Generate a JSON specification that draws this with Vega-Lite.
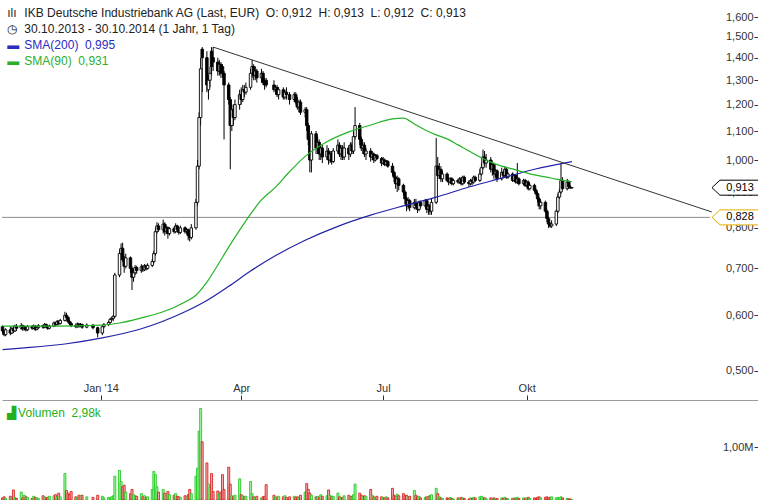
{
"$schema":"https://vega.github.io/schema/vega-lite/v6.json",
"padding":0,
"background":"white",
"spacing":0,
"bounds":"flush",
"config":{"view":{"stroke":null},"font":"Liberation Sans","axis":{"grid":false,"title":null,"labelFont":"Liberation Sans","labelFontSize":11,"labelColor":"#333333","tickColor":"#333333","tickWidth":1,"labelOverlap":false,"labelFlush":false},"text":{"font":"Liberation Sans"}},
"datasets":{
"px":[
{"d":"2013-10-30","o":0.578,"h":0.580,"l":0.565,"c":0.570,"v":40000},
{"d":"2013-10-31","o":0.570,"h":0.572,"l":0.560,"c":0.563,"v":60000},
{"d":"2013-11-01","o":0.563,"h":0.575,"l":0.560,"c":0.572,"v":30000},
{"d":"2013-11-04","o":0.572,"h":0.578,"l":0.562,"c":0.566,"v":70000},
{"d":"2013-11-05","o":0.566,"h":0.578,"l":0.564,"c":0.574,"v":40000},
{"d":"2013-11-06","o":0.574,"h":0.580,"l":0.566,"c":0.570,"v":190000},
{"d":"2013-11-07","o":0.570,"h":0.582,"l":0.568,"c":0.578,"v":50000},
{"d":"2013-11-08","o":0.578,"h":0.583,"l":0.570,"c":0.575,"v":30000},
{"d":"2013-11-11","o":0.575,"h":0.585,"l":0.572,"c":0.580,"v":150000},
{"d":"2013-11-12","o":0.580,"h":0.582,"l":0.570,"c":0.574,"v":40000},
{"d":"2013-11-13","o":0.574,"h":0.580,"l":0.571,"c":0.577,"v":90000},
{"d":"2013-11-14","o":0.577,"h":0.579,"l":0.569,"c":0.572,"v":60000},
{"d":"2013-11-15","o":0.572,"h":0.581,"l":0.570,"c":0.578,"v":50000},
{"d":"2013-11-18","o":0.578,"h":0.581,"l":0.572,"c":0.575,"v":30000},
{"d":"2013-11-19","o":0.575,"h":0.582,"l":0.573,"c":0.579,"v":70000},
{"d":"2013-11-20","o":0.579,"h":0.581,"l":0.570,"c":0.573,"v":50000},
{"d":"2013-11-21","o":0.573,"h":0.579,"l":0.571,"c":0.576,"v":40000},
{"d":"2013-11-22","o":0.576,"h":0.583,"l":0.574,"c":0.580,"v":30000},
{"d":"2013-11-25","o":0.580,"h":0.582,"l":0.574,"c":0.577,"v":80000},
{"d":"2013-11-26","o":0.577,"h":0.585,"l":0.575,"c":0.582,"v":60000},
{"d":"2013-11-27","o":0.582,"h":0.584,"l":0.575,"c":0.578,"v":40000},
{"d":"2013-11-28","o":0.578,"h":0.580,"l":0.572,"c":0.575,"v":50000},
{"d":"2013-11-29","o":0.575,"h":0.582,"l":0.573,"c":0.579,"v":70000},
{"d":"2013-12-02","o":0.579,"h":0.588,"l":0.577,"c":0.585,"v":80000},
{"d":"2013-12-03","o":0.585,"h":0.587,"l":0.579,"c":0.582,"v":100000},
{"d":"2013-12-04","o":0.582,"h":0.591,"l":0.580,"c":0.588,"v":60000},
{"d":"2013-12-05","o":0.588,"h":0.590,"l":0.581,"c":0.584,"v":130000},
{"d":"2013-12-06","o":0.584,"h":0.593,"l":0.582,"c":0.590,"v":60000},
{"d":"2013-12-09","o":0.590,"h":0.607,"l":0.588,"c":0.600,"v":500000},
{"d":"2013-12-10","o":0.600,"h":0.605,"l":0.593,"c":0.596,"v":180000},
{"d":"2013-12-11","o":0.596,"h":0.598,"l":0.585,"c":0.588,"v":130000},
{"d":"2013-12-12","o":0.588,"h":0.591,"l":0.581,"c":0.584,"v":100000},
{"d":"2013-12-13","o":0.584,"h":0.587,"l":0.577,"c":0.580,"v":160000},
{"d":"2013-12-16","o":0.580,"h":0.584,"l":0.575,"c":0.578,"v":60000},
{"d":"2013-12-17","o":0.578,"h":0.586,"l":0.576,"c":0.583,"v":50000},
{"d":"2013-12-18","o":0.583,"h":0.585,"l":0.576,"c":0.579,"v":90000},
{"d":"2013-12-19","o":0.579,"h":0.585,"l":0.577,"c":0.582,"v":80000},
{"d":"2013-12-20","o":0.582,"h":0.584,"l":0.574,"c":0.577,"v":90000},
{"d":"2013-12-23","o":0.577,"h":0.584,"l":0.575,"c":0.581,"v":60000},
{"d":"2013-12-27","o":0.581,"h":0.583,"l":0.573,"c":0.576,"v":50000},
{"d":"2013-12-30","o":0.576,"h":0.578,"l":0.558,"c":0.566,"v":90000},
{"d":"2014-01-02","o":0.566,"h":0.580,"l":0.562,"c":0.578,"v":70000},
{"d":"2014-01-03","o":0.578,"h":0.585,"l":0.575,"c":0.582,"v":40000},
{"d":"2014-01-06","o":0.582,"h":0.589,"l":0.579,"c":0.586,"v":50000},
{"d":"2014-01-07","o":0.586,"h":0.595,"l":0.584,"c":0.592,"v":40000},
{"d":"2014-01-08","o":0.592,"h":0.597,"l":0.588,"c":0.594,"v":60000},
{"d":"2014-01-09","o":0.594,"h":0.600,"l":0.589,"c":0.598,"v":80000},
{"d":"2014-01-10","o":0.598,"h":0.690,"l":0.595,"c":0.685,"v":450000},
{"d":"2014-01-13","o":0.685,"h":0.745,"l":0.680,"c":0.735,"v":560000},
{"d":"2014-01-14","o":0.735,"h":0.760,"l":0.720,"c":0.748,"v":350000},
{"d":"2014-01-15","o":0.748,"h":0.762,"l":0.715,"c":0.720,"v":250000},
{"d":"2014-01-16","o":0.720,"h":0.730,"l":0.690,"c":0.705,"v":280000},
{"d":"2014-01-17","o":0.705,"h":0.735,"l":0.700,"c":0.725,"v":150000},
{"d":"2014-01-20","o":0.725,"h":0.728,"l":0.690,"c":0.700,"v":120000},
{"d":"2014-01-21","o":0.700,"h":0.705,"l":0.652,"c":0.680,"v":200000},
{"d":"2014-01-22","o":0.680,"h":0.700,"l":0.670,"c":0.690,"v":100000},
{"d":"2014-01-23","o":0.690,"h":0.708,"l":0.685,"c":0.702,"v":80000},
{"d":"2014-01-24","o":0.702,"h":0.706,"l":0.688,"c":0.695,"v":70000},
{"d":"2014-01-27","o":0.695,"h":0.710,"l":0.690,"c":0.704,"v":120000},
{"d":"2014-01-28","o":0.704,"h":0.708,"l":0.692,"c":0.697,"v":60000},
{"d":"2014-01-29","o":0.697,"h":0.710,"l":0.694,"c":0.706,"v":80000},
{"d":"2014-01-30","o":0.706,"h":0.709,"l":0.695,"c":0.700,"v":50000},
{"d":"2014-01-31","o":0.700,"h":0.712,"l":0.697,"c":0.707,"v":60000},
{"d":"2014-02-03","o":0.707,"h":0.722,"l":0.703,"c":0.716,"v":200000},
{"d":"2014-02-04","o":0.716,"h":0.742,"l":0.712,"c":0.735,"v":540000},
{"d":"2014-02-05","o":0.735,"h":0.800,"l":0.730,"c":0.790,"v":480000},
{"d":"2014-02-06","o":0.790,"h":0.815,"l":0.785,"c":0.805,"v":250000},
{"d":"2014-02-07","o":0.805,"h":0.812,"l":0.790,"c":0.795,"v":150000},
{"d":"2014-02-10","o":0.795,"h":0.822,"l":0.785,"c":0.810,"v":200000},
{"d":"2014-02-11","o":0.810,"h":0.815,"l":0.780,"c":0.790,"v":130000},
{"d":"2014-02-12","o":0.790,"h":0.806,"l":0.784,"c":0.800,"v":120000},
{"d":"2014-02-13","o":0.800,"h":0.804,"l":0.772,"c":0.785,"v":160000},
{"d":"2014-02-14","o":0.785,"h":0.802,"l":0.780,"c":0.798,"v":100000},
{"d":"2014-02-17","o":0.798,"h":0.803,"l":0.785,"c":0.790,"v":90000},
{"d":"2014-02-18","o":0.790,"h":0.812,"l":0.786,"c":0.805,"v":120000},
{"d":"2014-02-19","o":0.805,"h":0.808,"l":0.790,"c":0.795,"v":70000},
{"d":"2014-02-20","o":0.795,"h":0.800,"l":0.782,"c":0.788,"v":60000},
{"d":"2014-02-21","o":0.788,"h":0.806,"l":0.784,"c":0.800,"v":50000},
{"d":"2014-02-24","o":0.800,"h":0.804,"l":0.785,"c":0.790,"v":80000},
{"d":"2014-02-25","o":0.790,"h":0.800,"l":0.785,"c":0.795,"v":60000},
{"d":"2014-02-26","o":0.795,"h":0.798,"l":0.768,"c":0.780,"v":100000},
{"d":"2014-02-27","o":0.780,"h":0.785,"l":0.765,"c":0.775,"v":200000},
{"d":"2014-02-28","o":0.775,"h":0.810,"l":0.770,"c":0.800,"v":120000},
{"d":"2014-03-03","o":0.800,"h":0.880,"l":0.795,"c":0.870,"v":450000},
{"d":"2014-03-04","o":0.870,"h":1.000,"l":0.860,"c":0.980,"v":600000},
{"d":"2014-03-05","o":0.980,"h":1.170,"l":0.970,"c":1.150,"v":1300000},
{"d":"2014-03-06","o":1.150,"h":1.400,"l":1.120,"c":1.350,"v":1730000},
{"d":"2014-03-07","o":1.440,"h":1.450,"l":1.250,"c":1.400,"v":1100000},
{"d":"2014-03-10","o":1.400,"h":1.430,"l":1.250,"c":1.280,"v":700000},
{"d":"2014-03-11","o":1.260,"h":1.320,"l":1.220,"c":1.300,"v":300000},
{"d":"2014-03-12","o":1.300,"h":1.360,"l":1.270,"c":1.330,"v":250000},
{"d":"2014-03-13","o":1.430,"h":1.450,"l":1.320,"c":1.360,"v":500000},
{"d":"2014-03-14","o":1.400,"h":1.450,"l":1.340,"c":1.380,"v":160000},
{"d":"2014-03-17","o":1.380,"h":1.400,"l":1.320,"c":1.340,"v":170000},
{"d":"2014-03-18","o":1.340,"h":1.390,"l":1.320,"c":1.370,"v":120000},
{"d":"2014-03-19","o":1.370,"h":1.380,"l":1.310,"c":1.330,"v":150000},
{"d":"2014-03-20","o":1.360,"h":1.370,"l":1.310,"c":1.330,"v":480000},
{"d":"2014-03-21","o":1.330,"h":1.340,"l":1.070,"c":1.280,"v":200000},
{"d":"2014-03-24","o":1.280,"h":1.290,"l":1.200,"c":1.220,"v":620000},
{"d":"2014-03-25","o":1.220,"h":1.230,"l":0.970,"c":1.120,"v":300000},
{"d":"2014-03-26","o":1.120,"h":1.200,"l":1.100,"c":1.180,"v":80000},
{"d":"2014-03-27","o":1.180,"h":1.200,"l":1.120,"c":1.150,"v":60000},
{"d":"2014-03-28","o":1.150,"h":1.220,"l":1.140,"c":1.200,"v":90000},
{"d":"2014-03-31","o":1.200,"h":1.260,"l":1.180,"c":1.240,"v":400000},
{"d":"2014-04-01","o":1.240,"h":1.270,"l":1.200,"c":1.220,"v":100000},
{"d":"2014-04-02","o":1.220,"h":1.280,"l":1.210,"c":1.260,"v":80000},
{"d":"2014-04-03","o":1.260,"h":1.280,"l":1.230,"c":1.250,"v":60000},
{"d":"2014-04-04","o":1.250,"h":1.290,"l":1.240,"c":1.270,"v":70000},
{"d":"2014-04-07","o":1.270,"h":1.350,"l":1.260,"c":1.330,"v":350000},
{"d":"2014-04-08","o":1.330,"h":1.390,"l":1.310,"c":1.360,"v":120000},
{"d":"2014-04-09","o":1.360,"h":1.370,"l":1.300,"c":1.320,"v":60000},
{"d":"2014-04-10","o":1.320,"h":1.360,"l":1.300,"c":1.340,"v":50000},
{"d":"2014-04-11","o":1.340,"h":1.350,"l":1.290,"c":1.310,"v":70000},
{"d":"2014-04-14","o":1.310,"h":1.350,"l":1.290,"c":1.330,"v":40000},
{"d":"2014-04-15","o":1.330,"h":1.340,"l":1.280,"c":1.290,"v":60000},
{"d":"2014-04-16","o":1.290,"h":1.310,"l":1.260,"c":1.280,"v":70000},
{"d":"2014-04-17","o":1.300,"h":1.310,"l":1.270,"c":1.280,"v":290000},
{"d":"2014-04-22","o":1.280,"h":1.300,"l":1.250,"c":1.260,"v":90000},
{"d":"2014-04-23","o":1.260,"h":1.280,"l":1.240,"c":1.270,"v":60000},
{"d":"2014-04-24","o":1.270,"h":1.280,"l":1.230,"c":1.240,"v":50000},
{"d":"2014-04-25","o":1.240,"h":1.270,"l":1.220,"c":1.260,"v":70000},
{"d":"2014-04-28","o":1.260,"h":1.270,"l":1.220,"c":1.230,"v":60000},
{"d":"2014-04-29","o":1.230,"h":1.260,"l":1.220,"c":1.250,"v":80000},
{"d":"2014-04-30","o":1.250,"h":1.270,"l":1.220,"c":1.240,"v":50000},
{"d":"2014-05-02","o":1.240,"h":1.250,"l":1.200,"c":1.220,"v":60000},
{"d":"2014-05-05","o":1.220,"h":1.250,"l":1.210,"c":1.240,"v":70000},
{"d":"2014-05-06","o":1.240,"h":1.250,"l":1.200,"c":1.210,"v":50000},
{"d":"2014-05-07","o":1.210,"h":1.230,"l":1.180,"c":1.190,"v":60000},
{"d":"2014-05-08","o":1.190,"h":1.220,"l":1.170,"c":1.210,"v":40000},
{"d":"2014-05-09","o":1.210,"h":1.220,"l":1.160,"c":1.170,"v":90000},
{"d":"2014-05-12","o":1.170,"h":1.190,"l":1.150,"c":1.180,"v":150000},
{"d":"2014-05-13","o":1.180,"h":1.190,"l":1.100,"c":1.120,"v":310000},
{"d":"2014-05-14","o":1.120,"h":1.130,"l":1.050,"c":1.070,"v":200000},
{"d":"2014-05-15","o":1.070,"h":1.080,"l":0.960,"c":1.000,"v":130000},
{"d":"2014-05-16","o":1.000,"h":1.100,"l":0.960,"c":1.090,"v":90000},
{"d":"2014-05-19","o":1.090,"h":1.100,"l":1.020,"c":1.040,"v":60000},
{"d":"2014-05-20","o":1.040,"h":1.080,"l":1.020,"c":1.060,"v":70000},
{"d":"2014-05-21","o":1.060,"h":1.070,"l":1.000,"c":1.020,"v":50000},
{"d":"2014-05-22","o":1.020,"h":1.050,"l":1.000,"c":1.040,"v":100000},
{"d":"2014-05-23","o":1.040,"h":1.050,"l":0.990,"c":1.010,"v":70000},
{"d":"2014-05-26","o":1.010,"h":1.050,"l":1.000,"c":1.030,"v":80000},
{"d":"2014-05-27","o":1.030,"h":1.040,"l":0.985,"c":1.000,"v":190000},
{"d":"2014-05-28","o":1.000,"h":1.030,"l":0.990,"c":1.020,"v":90000},
{"d":"2014-05-29","o":1.020,"h":1.030,"l":0.985,"c":0.995,"v":60000},
{"d":"2014-05-30","o":0.995,"h":1.040,"l":0.990,"c":1.030,"v":70000},
{"d":"2014-06-02","o":1.030,"h":1.070,"l":1.020,"c":1.050,"v":130000},
{"d":"2014-06-03","o":1.050,"h":1.060,"l":1.010,"c":1.020,"v":60000},
{"d":"2014-06-04","o":1.020,"h":1.050,"l":1.000,"c":1.040,"v":40000},
{"d":"2014-06-05","o":1.040,"h":1.050,"l":1.000,"c":1.010,"v":50000},
{"d":"2014-06-06","o":1.010,"h":1.060,"l":1.000,"c":1.040,"v":80000},
{"d":"2014-06-09","o":1.040,"h":1.050,"l":1.000,"c":1.020,"v":90000},
{"d":"2014-06-10","o":1.020,"h":1.060,"l":1.010,"c":1.050,"v":60000},
{"d":"2014-06-11","o":1.050,"h":1.060,"l":1.020,"c":1.030,"v":70000},
{"d":"2014-06-12","o":1.030,"h":1.100,"l":1.020,"c":1.080,"v":100000},
{"d":"2014-06-13","o":1.080,"h":1.190,"l":1.070,"c":1.120,"v":300000},
{"d":"2014-06-16","o":1.120,"h":1.130,"l":1.050,"c":1.070,"v":130000},
{"d":"2014-06-17","o":1.070,"h":1.080,"l":1.030,"c":1.040,"v":90000},
{"d":"2014-06-18","o":1.040,"h":1.060,"l":1.020,"c":1.050,"v":60000},
{"d":"2014-06-19","o":1.050,"h":1.060,"l":1.010,"c":1.020,"v":80000},
{"d":"2014-06-20","o":1.020,"h":1.040,"l":1.000,"c":1.030,"v":70000},
{"d":"2014-06-23","o":1.030,"h":1.040,"l":0.995,"c":1.010,"v":200000},
{"d":"2014-06-24","o":1.010,"h":1.030,"l":1.000,"c":1.020,"v":90000},
{"d":"2014-06-25","o":1.020,"h":1.025,"l":0.990,"c":1.000,"v":60000},
{"d":"2014-06-26","o":1.000,"h":1.020,"l":0.995,"c":1.015,"v":50000},
{"d":"2014-06-27","o":1.015,"h":1.020,"l":1.000,"c":1.005,"v":70000},
{"d":"2014-06-30","o":1.005,"h":1.010,"l":0.980,"c":0.990,"v":60000},
{"d":"2014-07-01","o":0.990,"h":1.010,"l":0.985,"c":1.000,"v":50000},
{"d":"2014-07-02","o":1.000,"h":1.005,"l":0.980,"c":0.985,"v":40000},
{"d":"2014-07-03","o":0.985,"h":1.000,"l":0.980,"c":0.995,"v":60000},
{"d":"2014-07-04","o":0.995,"h":1.000,"l":0.975,"c":0.980,"v":40000},
{"d":"2014-07-07","o":0.980,"h":0.990,"l":0.950,"c":0.960,"v":220000},
{"d":"2014-07-08","o":0.960,"h":0.965,"l":0.930,"c":0.945,"v":90000},
{"d":"2014-07-09","o":0.945,"h":0.950,"l":0.910,"c":0.925,"v":70000},
{"d":"2014-07-10","o":0.925,"h":0.950,"l":0.900,"c":0.940,"v":110000},
{"d":"2014-07-11","o":0.940,"h":0.945,"l":0.905,"c":0.920,"v":80000},
{"d":"2014-07-14","o":0.920,"h":0.925,"l":0.890,"c":0.900,"v":120000},
{"d":"2014-07-15","o":0.900,"h":0.905,"l":0.865,"c":0.880,"v":80000},
{"d":"2014-07-16","o":0.880,"h":0.885,"l":0.845,"c":0.860,"v":90000},
{"d":"2014-07-17","o":0.860,"h":0.885,"l":0.850,"c":0.875,"v":60000},
{"d":"2014-07-18","o":0.875,"h":0.880,"l":0.845,"c":0.855,"v":70000},
{"d":"2014-07-21","o":0.855,"h":0.880,"l":0.850,"c":0.870,"v":180000},
{"d":"2014-07-22","o":0.870,"h":0.880,"l":0.850,"c":0.860,"v":90000},
{"d":"2014-07-23","o":0.860,"h":0.870,"l":0.840,"c":0.850,"v":60000},
{"d":"2014-07-24","o":0.850,"h":0.875,"l":0.845,"c":0.870,"v":70000},
{"d":"2014-07-25","o":0.870,"h":0.875,"l":0.855,"c":0.860,"v":40000},
{"d":"2014-07-28","o":0.860,"h":0.880,"l":0.855,"c":0.875,"v":50000},
{"d":"2014-07-29","o":0.875,"h":0.880,"l":0.840,"c":0.850,"v":60000},
{"d":"2014-07-30","o":0.850,"h":0.865,"l":0.835,"c":0.860,"v":70000},
{"d":"2014-07-31","o":0.860,"h":0.865,"l":0.835,"c":0.845,"v":80000},
{"d":"2014-08-01","o":0.845,"h":0.880,"l":0.835,"c":0.870,"v":100000},
{"d":"2014-08-04","o":0.870,"h":1.075,"l":0.865,"c":0.980,"v":220000},
{"d":"2014-08-05","o":0.980,"h":1.010,"l":0.940,"c":0.950,"v":120000},
{"d":"2014-08-06","o":0.950,"h":0.990,"l":0.940,"c":0.970,"v":60000},
{"d":"2014-08-07","o":0.970,"h":0.980,"l":0.930,"c":0.940,"v":40000},
{"d":"2014-08-08","o":0.940,"h":0.965,"l":0.930,"c":0.955,"v":30000},
{"d":"2014-08-11","o":0.955,"h":0.960,"l":0.930,"c":0.935,"v":40000},
{"d":"2014-08-12","o":0.935,"h":0.945,"l":0.920,"c":0.930,"v":30000},
{"d":"2014-08-13","o":0.930,"h":0.945,"l":0.925,"c":0.940,"v":50000},
{"d":"2014-08-14","o":0.940,"h":0.945,"l":0.920,"c":0.925,"v":30000},
{"d":"2014-08-15","o":0.925,"h":0.940,"l":0.920,"c":0.935,"v":20000},
{"d":"2014-08-18","o":0.935,"h":0.940,"l":0.925,"c":0.930,"v":40000},
{"d":"2014-08-19","o":0.930,"h":0.945,"l":0.925,"c":0.940,"v":30000},
{"d":"2014-08-20","o":0.940,"h":0.945,"l":0.920,"c":0.925,"v":50000},
{"d":"2014-08-21","o":0.925,"h":0.950,"l":0.920,"c":0.945,"v":40000},
{"d":"2014-08-22","o":0.945,"h":0.950,"l":0.925,"c":0.930,"v":30000},
{"d":"2014-08-25","o":0.930,"h":0.935,"l":0.915,"c":0.925,"v":20000},
{"d":"2014-08-26","o":0.925,"h":0.940,"l":0.920,"c":0.935,"v":40000},
{"d":"2014-08-27","o":0.935,"h":0.940,"l":0.920,"c":0.930,"v":30000},
{"d":"2014-08-28","o":0.930,"h":0.950,"l":0.925,"c":0.945,"v":50000},
{"d":"2014-08-29","o":0.945,"h":0.950,"l":0.930,"c":0.935,"v":40000},
{"d":"2014-09-01","o":0.935,"h":0.970,"l":0.930,"c":0.955,"v":60000},
{"d":"2014-09-02","o":0.955,"h":0.990,"l":0.950,"c":0.975,"v":70000},
{"d":"2014-09-03","o":0.975,"h":1.035,"l":0.970,"c":1.010,"v":50000},
{"d":"2014-09-04","o":1.010,"h":1.030,"l":0.980,"c":0.990,"v":40000},
{"d":"2014-09-05","o":0.990,"h":1.020,"l":0.975,"c":1.000,"v":30000},
{"d":"2014-09-08","o":1.000,"h":1.010,"l":0.960,"c":0.970,"v":40000},
{"d":"2014-09-09","o":0.970,"h":0.995,"l":0.950,"c":0.985,"v":30000},
{"d":"2014-09-10","o":0.985,"h":0.990,"l":0.940,"c":0.955,"v":40000},
{"d":"2014-09-11","o":0.955,"h":0.970,"l":0.945,"c":0.965,"v":20000},
{"d":"2014-09-12","o":0.965,"h":0.970,"l":0.930,"c":0.940,"v":30000},
{"d":"2014-09-15","o":0.940,"h":0.975,"l":0.935,"c":0.960,"v":40000},
{"d":"2014-09-16","o":0.960,"h":0.965,"l":0.945,"c":0.950,"v":30000},
{"d":"2014-09-17","o":0.950,"h":0.980,"l":0.945,"c":0.970,"v":50000},
{"d":"2014-09-18","o":0.970,"h":0.975,"l":0.940,"c":0.945,"v":30000},
{"d":"2014-09-19","o":0.945,"h":0.960,"l":0.940,"c":0.955,"v":20000},
{"d":"2014-09-22","o":0.955,"h":0.960,"l":0.930,"c":0.935,"v":30000},
{"d":"2014-09-23","o":0.935,"h":0.955,"l":0.930,"c":0.950,"v":40000},
{"d":"2014-09-24","o":0.950,"h":0.955,"l":0.925,"c":0.930,"v":30000},
{"d":"2014-09-25","o":0.930,"h":0.990,"l":0.925,"c":0.940,"v":50000},
{"d":"2014-09-26","o":0.940,"h":0.945,"l":0.920,"c":0.925,"v":30000},
{"d":"2014-09-29","o":0.925,"h":0.940,"l":0.920,"c":0.935,"v":40000},
{"d":"2014-09-30","o":0.935,"h":0.940,"l":0.915,"c":0.920,"v":30000},
{"d":"2014-10-01","o":0.920,"h":0.935,"l":0.915,"c":0.930,"v":40000},
{"d":"2014-10-02","o":0.930,"h":0.935,"l":0.905,"c":0.910,"v":50000},
{"d":"2014-10-03","o":0.910,"h":0.925,"l":0.905,"c":0.920,"v":30000},
{"d":"2014-10-06","o":0.920,"h":0.925,"l":0.900,"c":0.905,"v":40000},
{"d":"2014-10-07","o":0.905,"h":0.910,"l":0.890,"c":0.895,"v":30000},
{"d":"2014-10-08","o":0.895,"h":0.900,"l":0.870,"c":0.880,"v":50000},
{"d":"2014-10-09","o":0.880,"h":0.885,"l":0.850,"c":0.860,"v":60000},
{"d":"2014-10-10","o":0.860,"h":0.875,"l":0.850,"c":0.870,"v":40000},
{"d":"2014-10-13","o":0.870,"h":0.875,"l":0.840,"c":0.845,"v":50000},
{"d":"2014-10-14","o":0.845,"h":0.850,"l":0.815,"c":0.825,"v":60000},
{"d":"2014-10-15","o":0.825,"h":0.830,"l":0.800,"c":0.810,"v":40000},
{"d":"2014-10-16","o":0.810,"h":0.815,"l":0.800,"c":0.805,"v":50000},
{"d":"2014-10-17","o":0.805,"h":0.820,"l":0.800,"c":0.810,"v":60000},
{"d":"2014-10-20","o":0.810,"h":0.850,"l":0.805,"c":0.845,"v":40000},
{"d":"2014-10-21","o":0.845,"h":0.895,"l":0.840,"c":0.885,"v":50000},
{"d":"2014-10-22","o":0.885,"h":0.910,"l":0.880,"c":0.900,"v":40000},
{"d":"2014-10-23","o":0.900,"h":0.990,"l":0.895,"c":0.935,"v":60000},
{"d":"2014-10-24","o":0.935,"h":0.945,"l":0.905,"c":0.910,"v":40000},
{"d":"2014-10-27","o":0.910,"h":0.940,"l":0.905,"c":0.930,"v":30000},
{"d":"2014-10-28","o":0.930,"h":0.935,"l":0.910,"c":0.915,"v":20000},
{"d":"2014-10-29","o":0.915,"h":0.920,"l":0.910,"c":0.912,"v":20000},
{"d":"2014-10-30","o":0.912,"h":0.913,"l":0.912,"c":0.913,"v":2980}
],
"sma90":[
{"d":"2013-10-30","p":0.579},{"d":"2013-12-02","p":0.579},{"d":"2014-01-02","p":0.581},{"d":"2014-01-13","p":0.585},{"d":"2014-01-27","p":0.595},{"d":"2014-02-10","p":0.607},{"d":"2014-02-24","p":0.627},{"d":"2014-03-03","p":0.641},{"d":"2014-03-10","p":0.669},{"d":"2014-03-17","p":0.708},{"d":"2014-03-24","p":0.751},{"d":"2014-03-31","p":0.794},{"d":"2014-04-07","p":0.837},{"d":"2014-04-14","p":0.877},{"d":"2014-04-22","p":0.910},{"d":"2014-05-02","p":0.962},{"d":"2014-05-12","p":1.012},{"d":"2014-05-26","p":1.062},{"d":"2014-06-09","p":1.097},{"d":"2014-06-23","p":1.122},{"d":"2014-07-07","p":1.145},{"d":"2014-07-14","p":1.148},{"d":"2014-07-21","p":1.126},{"d":"2014-07-28","p":1.104},{"d":"2014-08-04","p":1.086},{"d":"2014-08-11","p":1.072},{"d":"2014-08-18","p":1.051},{"d":"2014-08-25","p":1.030},{"d":"2014-09-01","p":1.010},{"d":"2014-09-08","p":0.993},{"d":"2014-09-15","p":0.980},{"d":"2014-09-22","p":0.971},{"d":"2014-09-29","p":0.961},{"d":"2014-10-06","p":0.952},{"d":"2014-10-13","p":0.946},{"d":"2014-10-20","p":0.939},{"d":"2014-10-30","p":0.931}
],
"sma200":[
{"d":"2013-10-30","p":0.536},{"d":"2013-11-13","p":0.539},{"d":"2013-12-09","p":0.546},{"d":"2014-01-02","p":0.557},{"d":"2014-01-27","p":0.574},{"d":"2014-02-24","p":0.607},{"d":"2014-03-10","p":0.630},{"d":"2014-03-24","p":0.660},{"d":"2014-04-07","p":0.694},{"d":"2014-04-22","p":0.728},{"d":"2014-05-12","p":0.768},{"d":"2014-06-02","p":0.804},{"d":"2014-06-23","p":0.834},{"d":"2014-07-14","p":0.860},{"d":"2014-08-04","p":0.885},{"d":"2014-08-25","p":0.915},{"d":"2014-09-15","p":0.942},{"d":"2014-10-06","p":0.970},{"d":"2014-10-30","p":0.995}
],
"ann":[
{"d":"2013-11-02","p":1.622,"t":"ılı","k":"t"},
{"d":"2013-11-13","p":1.622,"t":"IKB Deutsche Industriebank AG (Last, EUR)\u00a0\u00a0O: 0,912\u00a0\u00a0H: 0,913\u00a0\u00a0L: 0,912\u00a0\u00a0C: 0,913","k":"t"},
{"d":"2013-11-02","p":1.5386,"t":"◷","k":"t"},
{"d":"2013-11-13","p":1.5386,"t":"30.10.2013 - 30.10.2014 (1 Jahr, 1 Tag)","k":"t"},
{"d":"2013-11-02","p":1.46,"t":"▬","k":"b"},
{"d":"2013-11-13","p":1.46,"t":"SMA(200)\u00a0\u00a00,995","k":"b"},
{"d":"2013-11-02","p":1.385,"t":"▬","k":"g"},
{"d":"2013-11-13","p":1.385,"t":"SMA(90)\u00a0\u00a00,931","k":"g"}
]
},
"vconcat":[
{
"width":758,"height":400,
"encoding":{"x":{"field":"d","type":"temporal","scale":{"type":"utc","padding":0,"domain":[{"year":2013,"month":10,"date":29,"hours":16,"utc":true},{"year":2015,"month":2,"date":27,"hours":13,"minutes":40,"utc":true}]},"axis":{"values":[{"year":2014,"month":1,"date":1,"utc":true},{"year":2014,"month":4,"date":1,"utc":true},{"year":2014,"month":7,"date":1,"utc":true},{"year":2014,"month":10,"date":1,"utc":true}],"labelExpr":"utcmonth(datum.value)==0 ? \"Jan '14\" : (utcmonth(datum.value)==3 ? 'Apr' : (utcmonth(datum.value)==6 ? 'Jul' : 'Okt'))","tickSize":-5,"labelPadding":-7,"labelBaseline":"middle","domain":true,"domainColor":"#999999","domainWidth":1}}},
"layer":[
{"data":{"values":[{"d":"2013-10-29T16:00:00Z","d2":"2015-01-26T12:00:00Z","p":0.828}]},"mark":{"type":"rule","color":"#8c8c8c","strokeWidth":1},"encoding":{"x2":{"field":"d2"},"y":{"field":"p","type":"quantitative","scale":{"type":"log","domain":[0.4541,1.6927],"nice":false},"axis":{"orient":"right","values":[0.5,0.6,0.7,0.8,0.9,1.0,1.1,1.2,1.3,1.4,1.5,1.6],"labelExpr":"replace(format(datum.value,'.3f'),'.',',')","tickSize":-6,"labelPadding":-1,"labelAlign":"right","labelBaseline":"middle","domain":false}}}},
{"data":{"name":"px"},"mark":{"type":"rule","color":"#000000","strokeWidth":1},"encoding":{"y":{"field":"l","type":"quantitative","scale":{"type":"log","domain":[0.4541,1.6927],"nice":false}},"y2":{"field":"h"}}},
{"data":{"name":"px"},"mark":{"type":"bar","size":2.5,"stroke":"#000000","strokeWidth":0.9},"encoding":{"y":{"field":"o","type":"quantitative","scale":{"type":"log","domain":[0.4541,1.6927],"nice":false}},"y2":{"field":"c"},"fill":{"condition":{"test":"datum.c < datum.o","value":"#000000"},"value":"#ffffff"}}},
{"data":{"name":"sma200"},"mark":{"type":"line","color":"#2323a6","strokeWidth":1.2,"interpolate":"monotone"},"encoding":{"y":{"field":"p","type":"quantitative","scale":{"type":"log","domain":[0.4541,1.6927],"nice":false}}}},
{"data":{"name":"sma90"},"mark":{"type":"line","color":"#25b325","strokeWidth":1.2,"interpolate":"monotone"},"encoding":{"y":{"field":"p","type":"quantitative","scale":{"type":"log","domain":[0.4541,1.6927],"nice":false}}}},
{"data":{"values":[{"d":"2014-03-14","p":1.45},{"d":"2015-01-27T15:00:00Z","p":0.843}]},"mark":{"type":"line","color":"#333333","strokeWidth":1},"encoding":{"y":{"field":"p","type":"quantitative","scale":{"type":"log","domain":[0.4541,1.6927],"nice":false}}}},
{"data":{"values":[{"d":"2015-02-12T04:00:00Z","p":0.913,"k":"a"},{"d":"2015-02-12T04:00:00Z","p":0.828,"k":"b"}]},"mark":{"type":"point","shape":"M-1,0L-0.667,-0.3125L1,-0.3125L1,0.3125L-0.667,0.3125Z","size":2304,"filled":true,"fill":"#ffffff","strokeWidth":1,"opacity":1},"encoding":{"y":{"field":"p","type":"quantitative","scale":{"type":"log","domain":[0.4541,1.6927],"nice":false}},"stroke":{"field":"k","type":"nominal","scale":{"domain":["a","b"],"range":["#000000","#e6b000"]},"legend":null}}},
{"data":{"values":[{"d":"2015-02-14T19:00:00Z","p":0.913,"t":"0,913"},{"d":"2015-02-14T19:00:00Z","p":0.828,"t":"0,828"}]},"mark":{"type":"text","fontSize":11,"color":"#000000","align":"center","baseline":"middle"},"encoding":{"y":{"field":"p","type":"quantitative","scale":{"type":"log","domain":[0.4541,1.6927],"nice":false}},"text":{"field":"t"}}},
{"data":{"name":"ann"},"mark":{"type":"text","fontSize":12,"align":"left","baseline":"middle"},"encoding":{"y":{"field":"p","type":"quantitative","scale":{"type":"log","domain":[0.4541,1.6927],"nice":false}},"text":{"field":"t"},"color":{"field":"k","type":"nominal","scale":{"domain":["t","b","g"],"range":["#222222","#2b2bbf","#2aaf2a"]},"legend":null}}}
]
},
{
"width":758,"height":100,
"encoding":{"x":{"field":"d","type":"temporal","scale":{"type":"utc","padding":0,"domain":[{"year":2013,"month":10,"date":29,"hours":16,"utc":true},{"year":2015,"month":2,"date":27,"hours":13,"minutes":40,"utc":true}]},"axis":null}},
"layer":[
{"data":{"name":"px"},"mark":{"type":"bar","size":2,"strokeWidth":0.8},"encoding":{"y":{"field":"v","type":"quantitative","scale":{"domain":[0,1890000],"nice":false},"axis":{"orient":"right","values":[1000000],"labelExpr":"'1,00M'","tickSize":-6,"labelPadding":-1,"labelAlign":"right","labelBaseline":"middle","domain":false}},"fill":{"condition":{"test":"datum.c >= datum.o","value":"#a6eda6"},"value":"#f3a9a9"},"stroke":{"condition":{"test":"datum.c >= datum.o","value":"#14c814"},"value":"#d41414"}}},
{"data":{"values":[{"d":"2013-11-02","v":1644000,"t":"▟"},{"d":"2013-11-09","v":1644000,"t":"Volumen\u00a0\u00a02,98k"}]},"mark":{"type":"text","fontSize":12,"align":"left","baseline":"middle","color":"#22b022"},"encoding":{"y":{"field":"v","type":"quantitative","scale":{"domain":[0,1890000],"nice":false}},"text":{"field":"t"}}}
]
}
]
}
